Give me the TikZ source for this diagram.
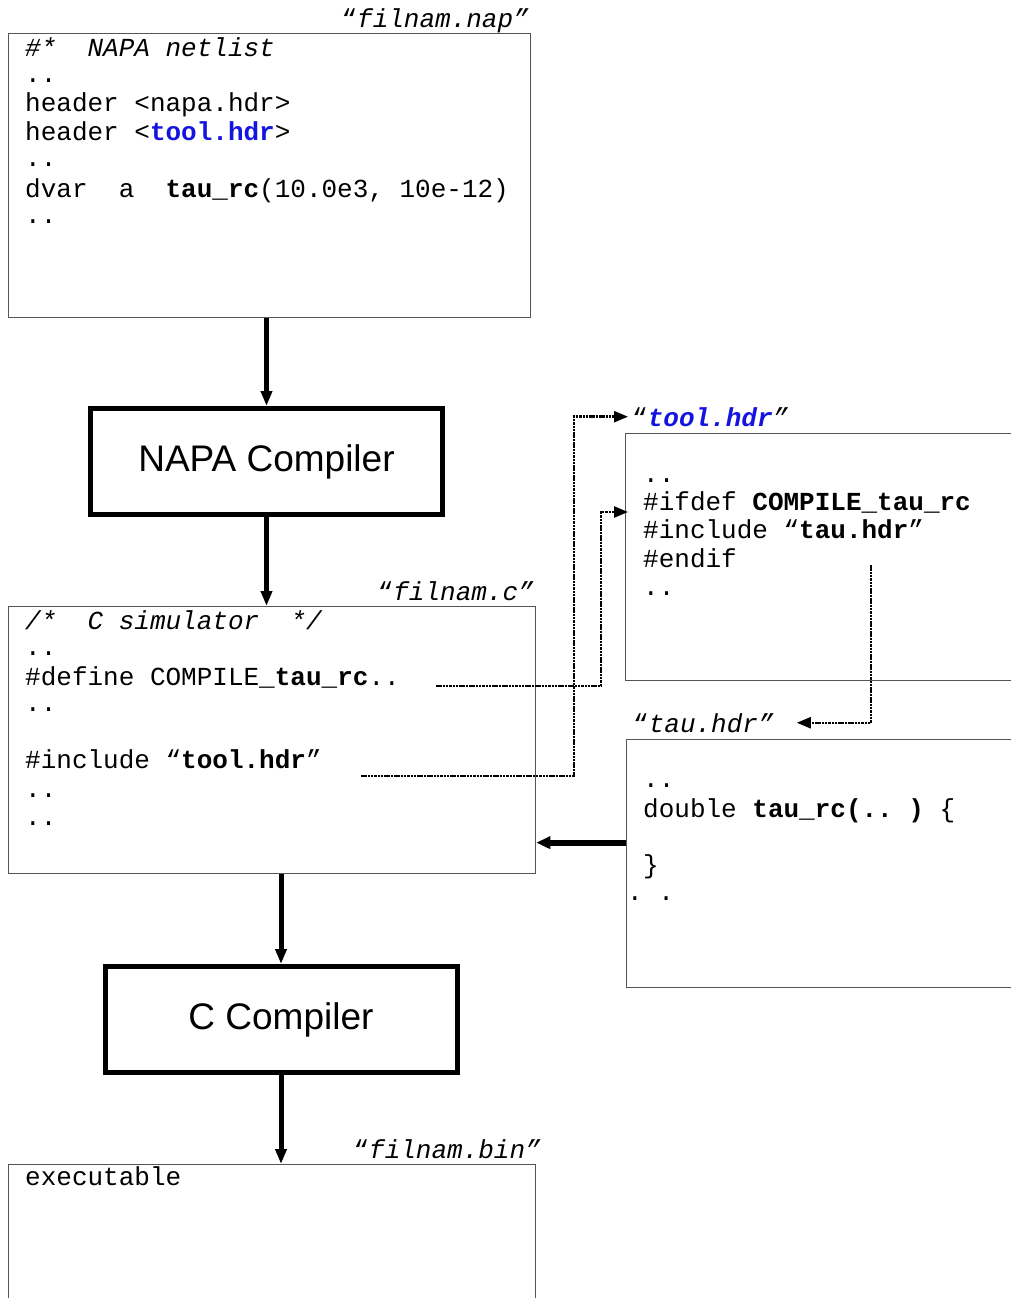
\documentclass[tikz,border=0pt]{standalone}
\usepackage{fontspec}
\setmainfont{Liberation Mono}
\newfontfamily\sansfnt{Liberation Sans}
\usetikzlibrary{arrows.meta}
\definecolor{hdrblue}{RGB}{20,20,225}
\definecolor{boxgray}{RGB}{85,85,85}
\begin{document}
\begin{tikzpicture}[x=1pt,y=-1pt,
  filebox/.style={draw=boxgray, line width=1.3pt, inner sep=0, anchor=north west},
  compbox/.style={draw=black, line width=5pt, inner sep=0, minimum width=352pt, minimum height=106pt,
    font=\sansfnt\fontsize{37}{44}\selectfont},
  code/.style={anchor=base west, inner sep=0, font=\fontsize{26}{30}\selectfont},
  flabel/.style={code, anchor=base east},
  flow/.style={line width=5pt, -{Triangle[width=11pt,length=15pt]}},
  ref/.style={line width=2.5pt, dash pattern=on 2.5pt off 0.8pt, -{Triangle[width=11pt,length=14pt]}},
]
\clip (0,0) rectangle (1011,1298);
\fill[white] (0,0) rectangle (1011,1298);

% ---------- filnam.nap ----------
\node[filebox, minimum width=522pt, minimum height=284pt] (nap) at (8,33) {};
\node[flabel] (napl) at (529,28) {“\itshape filnam.nap”};
\node[code] (n1) at (25,57) {\itshape \#*~~NAPA~netlist};
\node[code] (n2) at (25,82) {..};
\node[code] (n3) at (25,111) {header~<napa.hdr>};
\node[code] (n4) at (25,140) {header~<\textbf{\color{hdrblue}tool.hdr}>};
\node[code] (n5) at (25,166) {..};
\node[code] (n6) at (25,197) {dvar~~a~~\textbf{tau\_rc}(10.0e3,~10e-12)};
\node[code] (n7) at (25,223) {..};

% ---------- NAPA compiler ----------
\node[compbox] (napa) at (266.5,461.5) {NAPA Compiler};

% ---------- filnam.c ----------
\node[filebox, minimum width=527pt, minimum height=267pt] (csim) at (8,606) {};
\node[flabel] (csiml) at (534,600) {“\itshape filnam.c”};
\node[code] (c1) at (25,629) {\itshape /*~~C~simulator~~*/};
\node[code] (c2) at (25,655) {..};
\node[code] (c3) at (25,685) {\#define~COMPILE\_\textbf{tau\_rc}..};
\node[code] (c4) at (25,711) {..};
\node[code] (c5) at (25,768) {\#include~“\textbf{tool.hdr}”};
\node[code] (c6) at (25,797) {..};
\node[code] (c7) at (25,825) {..};

% ---------- tool.hdr ----------
\node[filebox, minimum width=400pt, minimum height=247pt] (toolbox) at (625,433) {};
\node[code] (tooll) at (632,426) {“\textbf{\itshape\color{hdrblue}tool.hdr}\itshape ”};
\node[code] (t1) at (643,482) {..};
\node[code] (t2) at (643,510) {\#ifdef~\textbf{COMPILE\_tau\_rc}};
\node[code] (t3) at (643,538) {\#include~“\textbf{tau.hdr}”};
\node[code] (t4) at (643,567) {\#endif};
\node[code] (t5) at (643,595) {..};

% ---------- tau.hdr ----------
\node[filebox, minimum width=400pt, minimum height=248pt] (taubox) at (626,739) {};
\node[code] (taul) at (633,732) {“\itshape tau.hdr”};
\node[code] (u1) at (643,787) {..};
\node[code] (u2) at (643,817) {double~\textbf{tau\_rc(..~)}~\{};
\node[code] (u3) at (643,873) {\}};
\node[code] (u4) at (627,900) {.~.};

% ---------- C compiler ----------
\node[compbox] (ccomp) at (281,1019.5) {C Compiler};

% ---------- filnam.bin ----------
\node[filebox, minimum width=527pt, minimum height=160pt] (bin) at (8,1164) {};
\node[flabel] (binl) at (541,1158) {“\itshape filnam.bin”};
\node[code] (b1) at (25,1185) {executable};

% ---------- flow arrows ----------
\draw[flow] (nap.south -| napa.north) -- (napa.north);
\draw[flow] (napa.south) -- (napa.south |- csim.north);
\draw[flow] (csim.south -| ccomp.north) -- (ccomp.north);
\draw[flow] (ccomp.south) -- (ccomp.south |- bin.north);
\draw[line width=6pt, -{Triangle[width=12pt,length=14pt]}]
  ([yshift=21pt]taubox.west) coordinate (tw) -- (tw -| csim.east);

% ---------- reference (dotted) arrows ----------
\coordinate (defend) at (436,686);
\coordinate (incend) at (361,776);
\coordinate (ifdefin) at (628,512);
\coordinate (endifpt) at (871,565);
\draw[ref] (defend) -- ++(165,0) |- (ifdefin);
\draw[ref] (incend) -- ++(213,0) |- ([xshift=-4pt]tooll.west);
\draw[ref] (endifpt) |- ([xshift=23pt]taul.east);
\end{tikzpicture}
\end{document}
